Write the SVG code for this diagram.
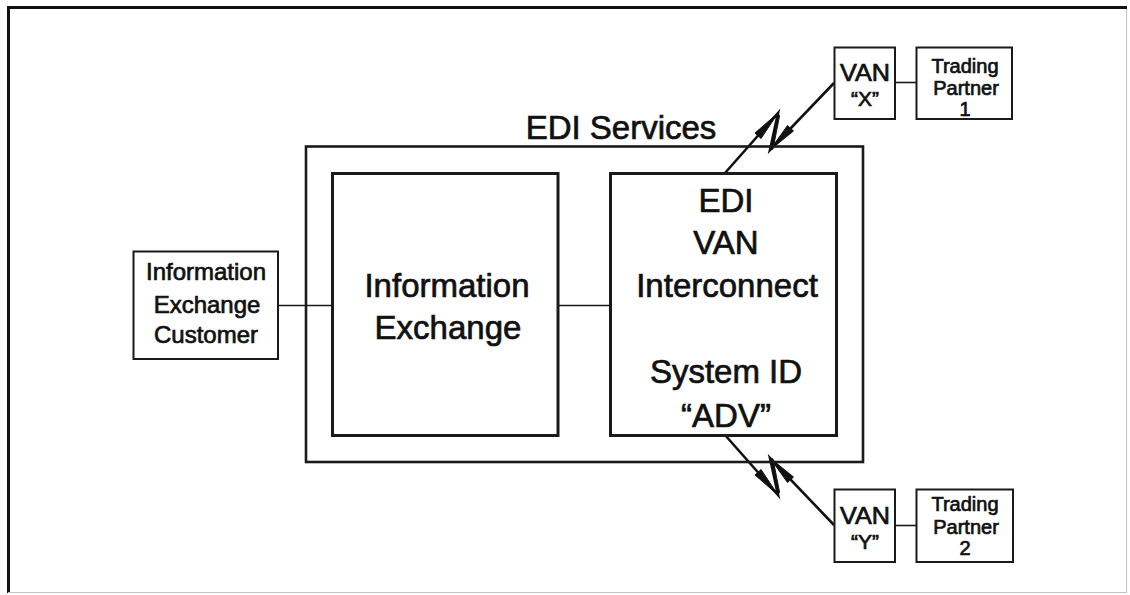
<svg xmlns="http://www.w3.org/2000/svg" width="1130" height="595" viewBox="0 0 1130 595">
  <style>
    .box { fill: none; stroke: #1a1a1a; }
    .t { font-family: "Liberation Sans", Arial, sans-serif; fill: #111; stroke: #111; stroke-width: 0.7; text-anchor: middle; }
    .big { font-size: 33px; }
    .mid { font-size: 24px; }
    .van { font-size: 24px; }
    .q { font-size: 21px; }
    .tp { font-size: 20px; }
    .conn { stroke: #1a1a1a; stroke-width: 1.6; fill: none; }
    .bolt { stroke: #111; stroke-width: 2.6; fill: none; stroke-linejoin: miter; }
    .wedge { fill: #111; stroke: #111; stroke-width: 1; stroke-linejoin: round; }
  </style>
  <rect width="1130" height="595" fill="#ffffff"/>
  <g id="frame">
    <line x1="7" y1="7.5" x2="1127" y2="7.5" stroke="#111" stroke-width="3"/>
    <line x1="8.5" y1="6" x2="8.5" y2="593" stroke="#111" stroke-width="3"/>
    <line x1="1126.5" y1="9" x2="1126.5" y2="593" stroke="#c4c4c4" stroke-width="1"/>
    <line x1="8" y1="592.5" x2="1127" y2="592.5" stroke="#c4c4c4" stroke-width="1"/>
  </g>
  <g id="connectors">
    <line class="conn" x1="278" y1="305.5" x2="332" y2="305.5"/>
    <line class="conn" x1="558" y1="305.5" x2="610" y2="305.5"/>
    <line class="conn" x1="895" y1="82.5" x2="916" y2="82.5"/>
    <line class="conn" x1="895" y1="525.5" x2="916" y2="525.5"/>
    <g id="bolt-top">
      <polyline class="bolt" points="725,173 778,113 770,150 834,83"/>
      <polygon class="wedge" points="778,113 755,133 761,138.5"/>
      <polygon class="wedge" points="770,150 787.5,125.5 793.5,131"/>
      <polygon class="wedge" points="778,113 770,150 773,149 779.5,116"/>
    </g>
    <g id="bolt-bottom">
      <polyline class="bolt" points="725,435 778,495 770,458 834,525"/>
      <polygon class="wedge" points="778,495 755,475 761,469.5"/>
      <polygon class="wedge" points="770,458 787.5,482.5 793.5,477"/>
      <polygon class="wedge" points="778,495 770,458 773,459 779.5,492"/>
    </g>
  </g>
  <g id="edi-services">
    <rect class="box" x="306" y="146.5" width="557" height="315.5" stroke-width="2.6"/>
    <text class="t big" x="621" y="139">EDI Services</text>
  </g>
  <g id="information-exchange">
    <rect class="box" x="332.5" y="173.5" width="225.5" height="262" stroke-width="3"/>
    <text class="t big" x="447" y="297">Information</text>
    <text class="t big" x="448" y="339">Exchange</text>
  </g>
  <g id="edi-van-interconnect">
    <rect class="box" x="610.5" y="173.5" width="226" height="262" stroke-width="3"/>
    <text class="t big" x="726" y="212">EDI</text>
    <text class="t big" x="726" y="254">VAN</text>
    <text class="t big" x="727" y="297">Interconnect</text>
    <text class="t big" x="726" y="383">System ID</text>
    <text class="t big" x="726" y="427">“ADV”</text>
  </g>
  <g id="customer">
    <rect class="box" x="133.5" y="251.5" width="144.5" height="107.5" stroke-width="2"/>
    <text class="t mid" x="206" y="280">Information</text>
    <text class="t mid" x="207" y="313">Exchange</text>
    <text class="t mid" x="206" y="343">Customer</text>
  </g>
  <g id="van-x">
    <rect class="box" x="834.5" y="47.5" width="60.5" height="71.5" stroke-width="2"/>
    <text class="t van" x="865" y="81" textLength="50" lengthAdjust="spacingAndGlyphs">VAN</text>
    <text class="t q" x="865" y="106">“X”</text>
  </g>
  <g id="trading-partner-1">
    <rect class="box" x="916.5" y="47.5" width="95.5" height="71.5" stroke-width="2"/>
    <text class="t tp" x="965" y="73">Trading</text>
    <text class="t tp" x="966" y="95">Partner</text>
    <text class="t tp" x="965" y="116">1</text>
  </g>
  <g id="van-y">
    <rect class="box" x="834.5" y="489.5" width="60.5" height="72.5" stroke-width="2"/>
    <text class="t van" x="865" y="524" textLength="50" lengthAdjust="spacingAndGlyphs">VAN</text>
    <text class="t q" x="865" y="549">“Y”</text>
  </g>
  <g id="trading-partner-2">
    <rect class="box" x="916.5" y="489.5" width="96.5" height="72.5" stroke-width="2"/>
    <text class="t tp" x="965" y="511">Trading</text>
    <text class="t tp" x="966" y="534">Partner</text>
    <text class="t tp" x="965" y="555">2</text>
  </g>
</svg>
